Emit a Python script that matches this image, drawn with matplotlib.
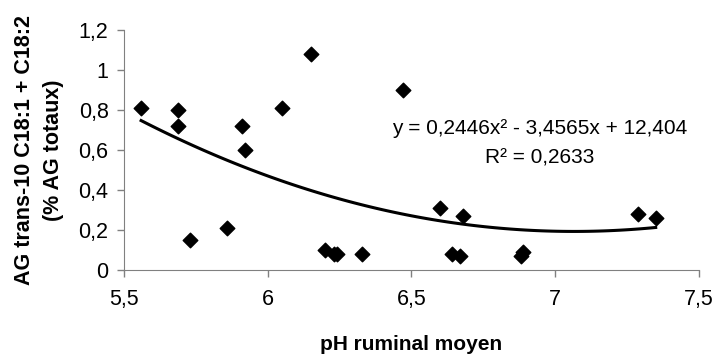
import numpy as np
import matplotlib
matplotlib.use('Agg')
import matplotlib.pyplot as plt

plt.rcParams['font.family'] = 'Liberation Sans'

# pH ruminal moyen vs AG trans-10 C18:1 + C18:2 (% AG totaux)
ph = [5.56, 5.69, 5.69, 5.73, 5.86, 5.91, 5.92, 6.05, 6.15, 6.20, 6.23, 6.24,
      6.33, 6.47, 6.60, 6.64, 6.67, 6.68, 6.88, 6.89, 7.29, 7.35]
ag = [0.81, 0.80, 0.72, 0.15, 0.21, 0.72, 0.60, 0.81, 1.08, 0.10, 0.08, 0.08,
      0.08, 0.90, 0.31, 0.08, 0.07, 0.27, 0.07, 0.09, 0.28, 0.26]

# trend line coefficients as printed on the chart
coef = [0.2446, -3.4565, 12.404]
r2 = 0.2633

fig = plt.figure(figsize=(7.16, 3.56), dpi=100)
ax = fig.add_axes([0.173, 0.2416, 0.803, 0.674])

ax.scatter(ph, ag, marker='D', s=55, color='black', zorder=3)

xs = np.linspace(min(ph), max(ph), 100)
ax.plot(xs, np.polyval(coef, xs), color='black', lw=2.2)

ax.set_xlim(5.5, 7.5)
ax.set_ylim(0, 1.2)
ax.set_xticks([5.5, 6, 6.5, 7, 7.5])
ax.set_xticklabels(['5,5', '6', '6,5', '7', '7,5'])
ax.set_yticks([0, 0.2, 0.4, 0.6, 0.8, 1, 1.2])
ax.set_yticklabels(['0', '0,2', '0,4', '0,6', '0,8', '1', '1,2'])
ax.tick_params(labelsize=15.5, color='#808080', length=5, width=1)
ax.tick_params(axis='x', pad=9)
ax.tick_params(axis='y', pad=6)

for s in ['top', 'right']:
    ax.spines[s].set_visible(False)
for s in ['left', 'bottom']:
    ax.spines[s].set_color('#808080')

ax.set_xlabel('pH ruminal moyen', fontsize=15, fontweight='bold', va='center')
ax.xaxis.set_label_coords(0.5, -0.3125)
ax.set_ylabel('AG trans-10 C18:1 + C18:2\n(% AG totaux)', fontsize=15.5,
              fontweight='bold', linespacing=1.5, va='center')
ax.yaxis.set_label_coords(-0.148, 0.5)

ax.text(6.947, 0.71, 'y = 0,2446x² - 3,4565x + 12,404', fontsize=15,
        ha='center', va='center')
ax.text(6.947, 0.56, 'R² = 0,%s' % str(r2)[2:], fontsize=15, ha='center', va='center')

fig.savefig('out.png', dpi=100)
